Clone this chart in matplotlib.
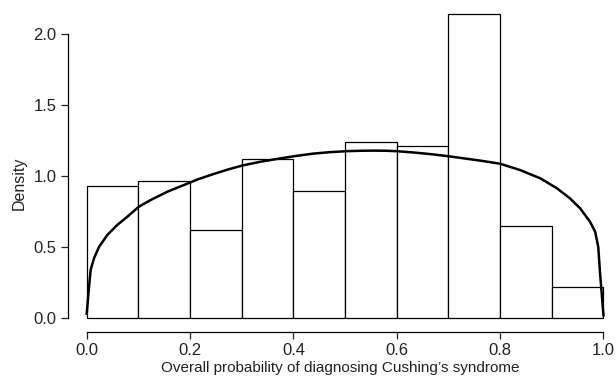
import numpy as np
import matplotlib.pyplot as plt

plt.rcParams['font.family'] = ['Liberation Sans', 'DejaVu Sans']

# histogram bins and densities
bin_edges = [0.0, 0.1, 0.2, 0.3, 0.4, 0.5, 0.6, 0.7, 0.8, 0.9, 1.0]
densities = [0.93, 0.96, 0.62, 1.12, 0.895, 1.24, 1.21, 2.14, 0.65, 0.215]

# fitted density curve
curve_x = [0.0, 0.0045, 0.0077, 0.0141, 0.0238, 0.040, 0.059, 0.0786, 0.101,
           0.124, 0.156, 0.188, 0.215, 0.245, 0.274, 0.303, 0.338, 0.374, 0.406,
           0.4386, 0.47, 0.503, 0.53, 0.555, 0.58, 0.60, 0.632, 0.664, 0.697,
           0.729, 0.761, 0.80, 0.839, 0.878, 0.910, 0.935, 0.955, 0.974, 0.984,
           0.990, 0.9935, 0.9967, 1.0]
curve_y = [0.03, 0.22, 0.34, 0.42, 0.50, 0.584, 0.654, 0.712, 0.783,
           0.83, 0.888, 0.935, 0.975, 1.012, 1.045, 1.074, 1.100, 1.122, 1.140,
           1.156, 1.166, 1.173, 1.176, 1.177, 1.176, 1.173, 1.164, 1.153, 1.139,
           1.123, 1.107, 1.085, 1.04, 0.982, 0.912, 0.842, 0.771, 0.677, 0.607,
           0.50, 0.314, 0.174, 0.02]

xticks = [0.0, 0.2, 0.4, 0.6, 0.8, 1.0]
yticks = [0.0, 0.5, 1.0, 1.5, 2.0]

fig = plt.figure(figsize=(6.16, 3.82), dpi=100)
ax = fig.add_axes([0.1099, 0.1317, 0.8836, 0.8552])

lefts = np.array(bin_edges[:-1])
widths = np.diff(bin_edges)
ax.bar(lefts, densities, width=widths, align='edge', facecolor='white',
       edgecolor='black', linewidth=0.9)
ax.plot(curve_x, curve_y, color='black', linewidth=1.8, solid_joinstyle='round')

ax.set_xlim(-0.0368, 1.0166)
ax.set_ylim(-0.0963, 2.201)

for s in ['top', 'right']:
    ax.spines[s].set_visible(False)
ax.spines['left'].set_bounds(0, 2)
ax.spines['bottom'].set_bounds(0, 1)
ax.spines['left'].set_linewidth(0.9)
ax.spines['bottom'].set_linewidth(0.9)

ax.set_xticks(xticks)
ax.set_xticklabels(['%.1f' % t for t in xticks])
ax.set_yticks(yticks)
ax.set_yticklabels(['%.1f' % t for t in yticks])
ax.tick_params(axis='both', length=5, width=0.9, labelsize=12, colors='#222222')
ax.tick_params(axis='x', pad=3)
ax.tick_params(axis='y', pad=3)

ax.set_xlabel("Overall probability of diagnosing Cushing\u2019s syndrome", fontsize=11,
              color='#222222', labelpad=2)
ax.set_ylabel('Density', fontsize=11.5, color='#222222', labelpad=5)
ax.yaxis.label.set_y(0.455)

fig.savefig('out.png', dpi=100)
